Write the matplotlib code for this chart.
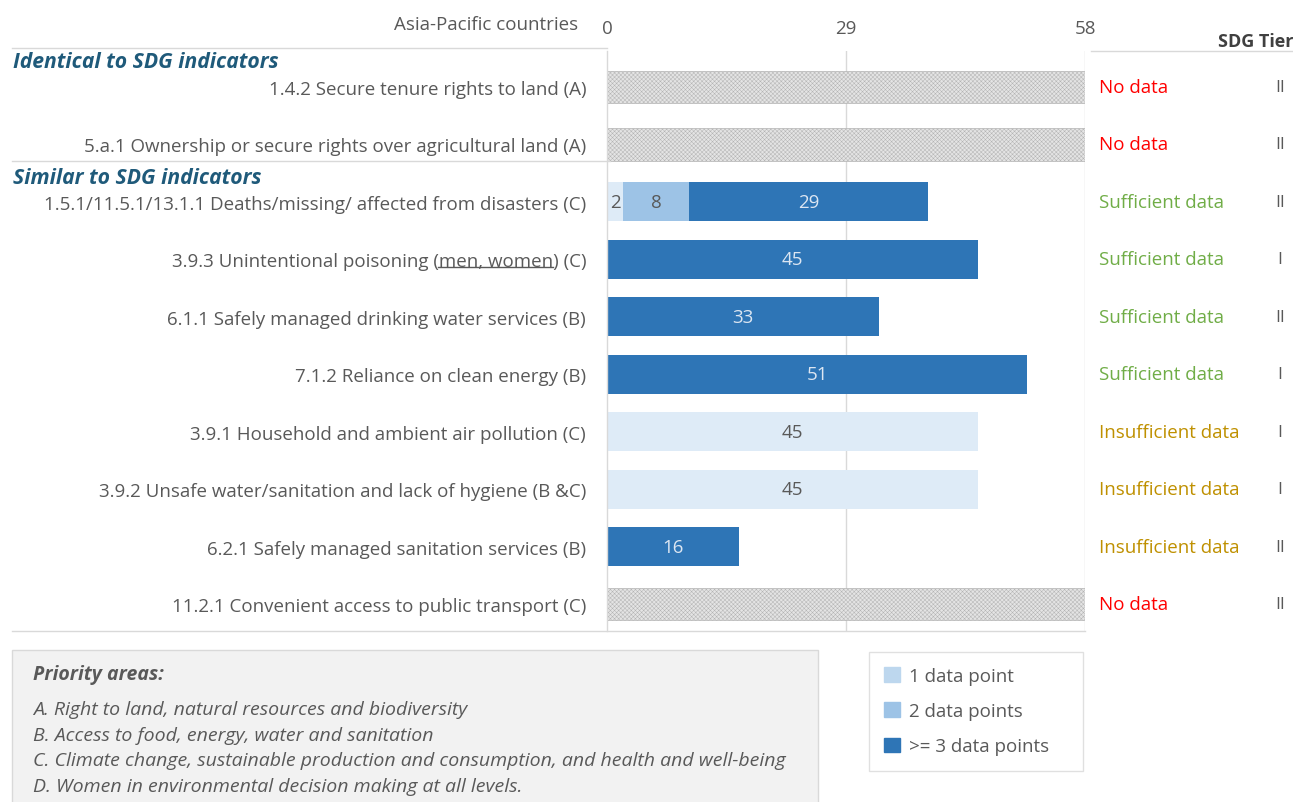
import matplotlib
matplotlib.use("Agg")
import matplotlib.pyplot as plt
import matplotlib.patches as mpatches
import matplotlib.transforms as mtrans
from matplotlib.lines import Line2D
import numpy as np

# ---------------- data ----------------
indicators = [
    "1.4.2 Secure tenure rights to land (A)",
    "5.a.1 Ownership or secure rights over agricultural land (A)",
    "1.5.1/11.5.1/13.1.1 Deaths/missing/ affected from disasters (C)",
    "3.9.3 Unintentional poisoning (men, women) (C)",
    "6.1.1 Safely managed drinking water services (B)",
    "7.1.2 Reliance on clean energy (B)",
    "3.9.1 Household and ambient air pollution (C)",
    "3.9.2 Unsafe water/sanitation and lack of hygiene (B &C)",
    "6.2.1 Safely managed sanitation services (B)",
    "11.2.1 Convenient access to public transport (C)",
]
one_point = [0, 0, 2, 0, 0, 0, 45, 45, 0, 0]
two_points = [0, 0, 8, 0, 0, 0, 0, 0, 0, 0]
three_points = [0, 0, 29, 45, 33, 51, 0, 0, 16, 0]
no_data = [True, True, False, False, False, False, False, False, False, True]
status = ["No data", "No data", "Sufficient data", "Sufficient data", "Sufficient data",
          "Sufficient data", "Insufficient data", "Insufficient data", "Insufficient data", "No data"]
tier = ["II", "II", "II", "I", "II", "I", "I", "I", "II", "II"]
total_countries = 58
x_ticks = [0, 29, 58]
headers = ["Identical to SDG indicators", "Similar to SDG indicators"]
priority_title = "Priority areas:"
priority_areas = [
    "A. Right to land, natural resources and biodiversity",
    "B. Access to food, energy, water and sanitation",
    "C. Climate change, sustainable production and consumption, and health and well-being",
    "D. Women in environmental decision making at all levels.",
]
legend_labels = ["1 data point", "2 data points", ">= 3 data points"]

# ---------------- style ----------------
W, H = 1293, 803
FONT = "Open Sans"
plt.rcParams["font.family"] = [FONT, "DejaVu Sans"]
GRAY_TXT = "#595959"
C1, C2, C3 = "#deebf7", "#9dc3e6", "#2e75b6"
C1_LEG = "#bdd7ee"
status_colors = {"No data": "#ff0000", "Sufficient data": "#70ad47", "Insufficient data": "#bf9000"}
FS = 13.5

fig = plt.figure(figsize=(W / 100, H / 100), dpi=100)

def fx(px):
    return px / W

def fy(py):
    return 1 - py / H

ax = fig.add_axes([fx(607), fy(632), fx(1085) - fx(607), fy(52) - fy(632)])

n = len(indicators)
ypos = np.arange(n)
bh = 0.68

v1 = np.array(one_point, float)
v2 = np.array(two_points, float)
v3 = np.array(three_points, float)

b1 = ax.barh(ypos, v1, height=bh, color=C1, lw=0)
b2 = ax.barh(ypos, v2, left=v1, height=bh, color=C2, lw=0)
b3 = ax.barh(ypos, v3, left=v1 + v2, height=bh, color=C3, lw=0)

plt.rcParams["hatch.linewidth"] = 0.35
nd = np.array([total_countries if f else 0 for f in no_data], float)
hb = ax.barh(ypos, nd, height=0.57, color="#e4e4e4", edgecolor="#b4b4b4",
             hatch="xxxxxxxx", lw=0.5)

# value labels
for cont, vals, dark in [(b1, v1, False), (b2, v2, False), (b3, v3, True)]:
    labs = [str(int(v)) if v > 0 else "" for v in vals]
    ax.bar_label(cont, labels=labs, label_type="center", fontsize=FS,
                 color="#dce6f2" if dark else GRAY_TXT)

ax.set_xlim(0, total_countries)
ax.set_ylim(n - 1 + 0.47, -0.627)

# grid
for xv in x_ticks[1:]:
    ax.axvline(xv, color="#d9d9d9", lw=1, zorder=0)
for s in ["top", "right", "bottom"]:
    ax.spines[s].set_visible(False)
ax.spines["left"].set_color("#d9d9d9")
ax.spines["left"].set_linewidth(1)

ax.xaxis.tick_top()
ax.set_xticks(x_ticks)
ax.set_xticklabels([str(t) for t in x_ticks])
ax.tick_params(axis="x", length=0, pad=10, labelsize=FS, labelcolor=GRAY_TXT)

ax.set_yticks(ypos)
ax.set_yticklabels(indicators)
ax.tick_params(axis="y", length=0, pad=15, labelsize=FS, labelcolor=GRAY_TXT)

# status and tier columns
tr = mtrans.blended_transform_factory(fig.transFigure, ax.transData)
for i in range(n):
    ax.text(fx(1099), ypos[i], status[i], transform=tr, ha="left", va="center",
            fontsize=FS, color=status_colors[status[i]])
    ax.text(fx(1280), ypos[i], tier[i], transform=tr, ha="center", va="center",
            fontsize=FS - 1, color=GRAY_TXT)

fig.text(fx(1293), fy(42), "SDG Tier", ha="right", va="center", fontsize=13,
         fontweight="bold", color="#404040")
fig.text(fx(578), fy(25), "Asia-Pacific countries", ha="right", va="center",
         fontsize=FS, color=GRAY_TXT)

# headers
HDR = "#1f5a7a"
fig.text(fx(13), fy(63), headers[0], ha="left", va="center", fontsize=15.2,
         fontweight="bold", fontstyle="italic", color=HDR)
fig.text(fx(13), fy(178), headers[1], ha="left", va="center", fontsize=15.2,
         fontweight="bold", fontstyle="italic", color=HDR)

# separator lines
LC = "#d9d9d9"
fig.add_artist(Line2D([fx(12), fx(607)], [fy(49), fy(49)], color=LC, lw=1))
fig.add_artist(Line2D([fx(1091), fx(1293)], [fy(52), fy(52)], color=LC, lw=1))
fig.add_artist(Line2D([fx(12), fx(610)], [fy(162), fy(162)], color=LC, lw=1))
fig.add_artist(Line2D([fx(12), fx(1085)], [fy(632), fy(632)], color=LC, lw=1))

# priority box
fig.add_artist(mpatches.Rectangle((fx(12), fy(810)), fx(818) - fx(12), fy(651) - fy(810),
                                  transform=fig.transFigure, facecolor="#f2f2f2",
                                  edgecolor="#d9d9d9", lw=1))
fig.text(fx(33), fy(675), priority_title, ha="left", va="center", fontsize=14,
         fontweight="bold", fontstyle="italic", color=GRAY_TXT)
for k, t in enumerate(priority_areas):
    fig.text(fx(33), fy(710 + 25.7 * k), t, ha="left", va="center", fontsize=14,
             fontstyle="italic", color=GRAY_TXT)

# legend
handles = [mpatches.Patch(color=c) for c in [C1_LEG, C2, C3]]
leg = fig.legend(handles, legend_labels, loc="upper left",
                 bbox_to_anchor=(fx(869), fy(770), fx(1083) - fx(869), fy(653) - fy(770)),
                 mode="expand", frameon=True, fancybox=False, fontsize=FS,
                 labelcolor=GRAY_TXT, handlelength=0.85, handleheight=0.85,
                 handletextpad=0.5, labelspacing=0.92, borderpad=0.8, borderaxespad=0)
leg.get_frame().set_edgecolor("#d9d9d9")
leg.get_frame().set_linewidth(1)

# underline "men, women"
fig.canvas.draw()
renderer = fig.canvas.get_renderer()
lab = ax.get_yticklabels()[3]
bb = lab.get_window_extent(renderer)

def twidth(s):
    t = fig.text(0, 0, s, fontsize=FS, fontfamily=[FONT, "DejaVu Sans"])
    w = t.get_window_extent(renderer).width
    t.remove()
    return w

w_suffix = twidth(") (C)")
w_mw = twidth("men, women")
x1 = bb.x1 - w_suffix
x0 = x1 - w_mw
yb = bb.y0 + 3
fig.add_artist(Line2D([x0 / W, x1 / W], [yb / H, yb / H], color=GRAY_TXT, lw=1))

fig.savefig("out.png", dpi=100)
